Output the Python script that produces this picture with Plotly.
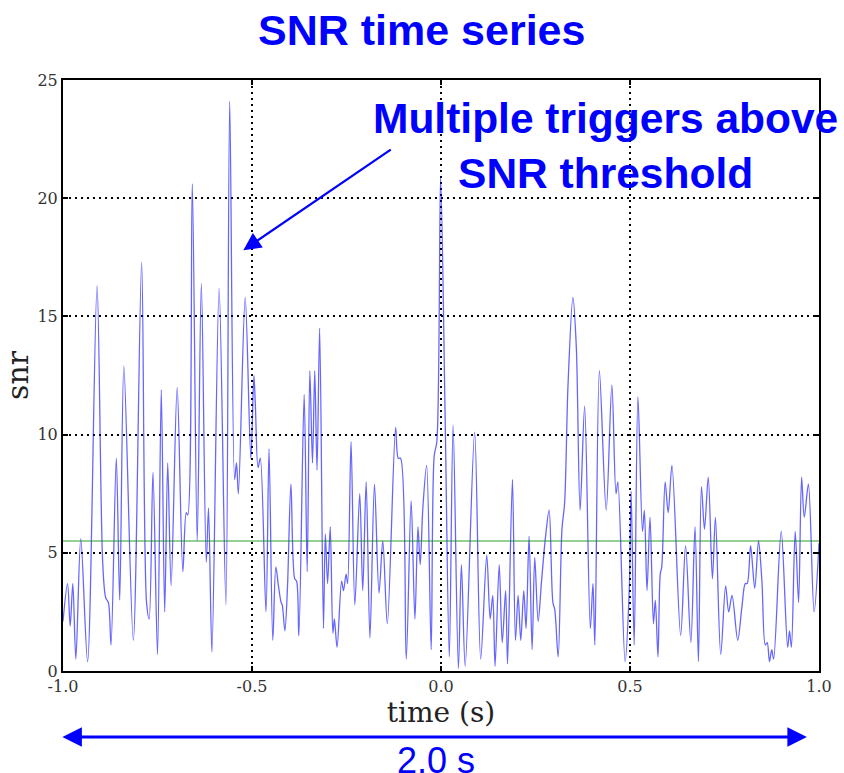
import plotly.graph_objects as go

# time (s) and SNR values
time_s = [
    -1.000, -0.988, -0.981, -0.974, -0.966, -0.953, -0.935, -0.910, -0.895, -0.887,
    -0.880, -0.873, -0.859, -0.850, -0.839, -0.814, -0.792, -0.779, -0.772, -0.762,
    -0.750, -0.740, -0.731, -0.723, -0.714, -0.698, -0.683, -0.674, -0.670, -0.658,
    -0.645, -0.634, -0.621, -0.615, -0.606, -0.587, -0.569, -0.559, -0.546, -0.541,
    -0.536, -0.518, -0.503, -0.495, -0.491, -0.484, -0.478, -0.463, -0.455, -0.445,
    -0.437, -0.430, -0.423, -0.420, -0.413, -0.406, -0.397, -0.387, -0.382, -0.376,
    -0.362, -0.354, -0.347, -0.340, -0.334, -0.328, -0.321, -0.311, -0.306, -0.300,
    -0.293, -0.286, -0.282, -0.275, -0.263, -0.258, -0.251, -0.247, -0.238, -0.228,
    -0.215, -0.207, -0.198, -0.188, -0.176, -0.164, -0.154, -0.142, -0.120, -0.113,
    -0.107, -0.092, -0.079, -0.069, -0.061, -0.055, -0.048, -0.038, -0.026, -0.018,
    -0.011, -0.001, 0.011, 0.022, 0.032, 0.046, 0.054, 0.064, 0.089, 0.105,
    0.121, 0.130, 0.137, 0.143, 0.154, 0.162, 0.171, 0.176, 0.189, 0.197,
    0.204, 0.211, 0.219, 0.225, 0.233, 0.241, 0.248, 0.257, 0.266, 0.276,
    0.286, 0.296, 0.301, 0.310, 0.320, 0.327, 0.336, 0.349, 0.358, 0.368,
    0.380, 0.395, 0.402, 0.407, 0.419, 0.437, 0.452, 0.463, 0.468, 0.487,
    0.498, 0.503, 0.511, 0.521, 0.533, 0.538, 0.545, 0.553, 0.562, 0.567,
    0.574, 0.580, 0.584, 0.593, 0.601, 0.611, 0.634, 0.647, 0.661, 0.672,
    0.681, 0.689, 0.697, 0.707, 0.718, 0.726, 0.740, 0.753, 0.761, 0.770,
    0.785, 0.796, 0.805, 0.810, 0.819, 0.830, 0.840, 0.849, 0.858, 0.863,
    0.869, 0.875, 0.880, 0.900, 0.917, 0.922, 0.927, 0.937, 0.946, 0.954,
    0.961, 0.972, 0.987, 1.000,
]
snr = [
    2.1, 3.7, 1.9, 3.7, 0.5, 5.6, 0.4, 16.3, 4.6, 3.1,
    2.9, 1.1, 9.0, 3.0, 12.9, 1.3, 17.3, 2.9, 2.2, 8.4,
    0.7, 11.9, 2.5, 8.8, 3.6, 12.0, 4.2, 6.7, 6.6, 20.6,
    5.5, 16.4, 4.6, 6.9, 0.8, 16.2, 2.8, 24.1, 8.1, 8.8,
    7.5, 15.8, 9.0, 12.5, 11.2, 8.6, 9.0, 2.5, 9.4, 1.3,
    4.4, 3.6, 2.9, 2.8, 1.7, 3.6, 7.9, 3.9, 3.8, 1.5,
    11.7, 4.2, 12.7, 8.8, 12.7, 8.5, 14.5, 1.8, 5.8, 3.7,
    6.1, 1.6, 2.2, 1.0, 3.8, 3.4, 4.1, 3.7, 9.7, 2.8,
    7.5, 3.4, 8.0, 1.4, 7.9, 3.3, 5.5, 2.0, 10.3, 9.0,
    9.0, 0.5, 7.2, 2.2, 6.1, 4.5, 6.9, 8.7, 0.9, 9.1,
    9.7, 20.9, 10.7, 0.6, 10.4, 0.1, 4.5, 0.2, 10.1, 0.5,
    4.9, 2.2, 3.2, 0.2, 4.5, 1.2, 3.4, 0.3, 8.1, 1.3,
    3.2, 1.3, 3.4, 1.8, 5.7, 0.9, 4.8, 2.1, 3.8, 5.6,
    6.8, 2.9, 2.6, 0.6, 6.0, 7.1, 12.1, 15.8, 13.7, 6.8,
    11.2, 1.8, 3.7, 1.1, 12.7, 6.8, 12.1, 7.5, 8.0, 0.4,
    3.4, 7.6, 1.1, 11.6, 5.9, 6.8, 3.4, 6.5, 2.0, 3.0,
    0.6, 4.1, 4.4, 8.0, 6.7, 8.7, 1.5, 5.3, 1.2, 6.1,
    0.4, 7.8, 6.0, 8.2, 3.9, 6.5, 0.7, 3.6, 2.5, 3.2,
    1.3, 2.7, 3.7, 3.7, 5.3, 3.5, 5.5, 3.8, 1.1, 1.2,
    0.4, 0.9, 0.5, 5.9, 1.0, 1.7, 1.0, 5.9, 2.9, 8.2,
    6.5, 7.9, 2.5, 5.4,
]
threshold = 5.5
x_ticks = [-1.0, -0.5, 0.0, 0.5, 1.0]
x_tick_labels = ["-1.0", "-0.5", "0.0", "0.5", "1.0"]
y_ticks = [0, 5, 10, 15, 20, 25]

fig = go.Figure()
fig.add_trace(go.Scatter(
    x=time_s, y=snr, mode="lines",
    line=dict(color="rgba(0,0,255,0.6)", width=1.3, shape="spline", smoothing=0.9),
    showlegend=False, hoverinfo="skip",
))
fig.add_trace(go.Scatter(
    x=[x_ticks[0], x_ticks[-1]], y=[threshold, threshold], mode="lines",
    line=dict(color="rgba(0,140,0,0.55)", width=1.3),
    showlegend=False, hoverinfo="skip",
))

axis_font = dict(family="DejaVu Serif", size=16, color="#333")
common = dict(
    showline=True, linecolor="black", linewidth=2, mirror="ticks",
    ticks="inside", ticklen=5, tickcolor="black", tickwidth=1.5,
    showgrid=True, gridcolor="black", gridwidth=2, griddash="2px,4px",
    zeroline=False, tickfont=axis_font,
)
fig.update_xaxes(range=[-1, 1], tickvals=x_ticks, ticktext=x_tick_labels,
                 title=dict(text="time (s)", font=dict(family="DejaVu Serif", size=28, color="#222"), standoff=6),
                 **common)
fig.update_yaxes(range=[0, 25], tickvals=y_ticks,
                 title=dict(text="snr", font=dict(family="DejaVu Serif", size=30, color="#222"), standoff=4),
                 **common)

blue = "#0000ff"
fig.add_annotation(text="<b>SNR time series</b>", xref="paper", yref="paper",
                   x=0.474, y=1.085, xanchor="center", yanchor="middle", showarrow=False,
                   font=dict(family="Liberation Sans", size=43, color=blue))
fig.add_annotation(text="<b>Multiple triggers above<br>SNR threshold</b>", xref="x", yref="y",
                   x=0.434, y=22.2, xanchor="center", yanchor="middle", showarrow=False,
                   font=dict(family="Liberation Sans", size=42.5, color=blue))
fig.add_annotation(x=-0.523, y=17.8, ax=-0.129, ay=22.1, xref="x", yref="y",
                   axref="x", ayref="y", text="", showarrow=True,
                   arrowhead=2, arrowsize=1.6, arrowwidth=2.2, arrowcolor=blue)
fig.add_annotation(x=0.984, y=-0.1117, xref="paper", yref="paper",
                   ax=-746, ay=0, axref="pixel", ayref="pixel", text="", showarrow=True,
                   arrowhead=2, startarrowhead=2, arrowside="end+start",
                   arrowsize=1.3, startarrowsize=1.3, arrowwidth=3, arrowcolor=blue)
fig.add_annotation(text="2.0 s", xref="paper", yref="paper", x=0.494, y=-0.114,
                   xanchor="center", yanchor="top", showarrow=False,
                   font=dict(family="Liberation Sans", size=36, color=blue))

fig.update_layout(
    width=844, height=773,
    margin=dict(l=62, r=22, t=80, b=102),
    paper_bgcolor="white", plot_bgcolor="white",
)
fig.write_html("out.html", config={"displayModeBar": False},
               post_script="document.body.style.margin='0';")
